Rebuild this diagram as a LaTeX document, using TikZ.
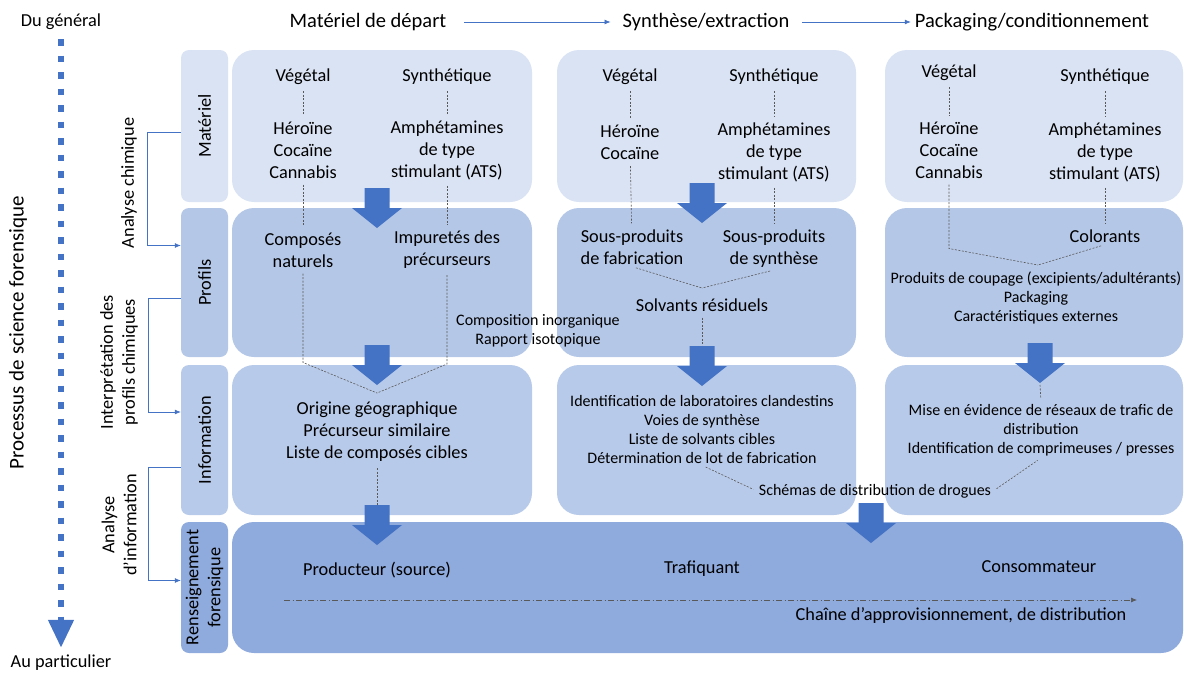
\documentclass[tikz,border=0pt]{standalone}
\usepackage{fontspec}
\setmainfont{Carlito}
\usetikzlibrary{arrows.meta}

\definecolor{cone}{HTML}{DAE3F3}
\definecolor{ctwo}{HTML}{B4C7E7}
\definecolor{cthree}{HTML}{B8CAE9}
\definecolor{cfour}{HTML}{8FAADC}
\definecolor{ablue}{HTML}{4472C4}
\definecolor{dgray}{HTML}{595959}

\tikzset{
  pics/blockarrow/.style={code={
    \fill[ablue] (-12.5,0) -- (12.5,0) -- (12.5,20) -- (25,20) -- (0,40) -- (-25,20) -- (-12.5,20) -- cycle;
  }}
}

\begin{document}
\begin{tikzpicture}[x=1pt,y=-1pt,
  cbox/.style={rectangle, rounded corners=22pt, inner sep=0pt},
  lbox/.style={rectangle, rounded corners=8pt, inner sep=0pt, minimum width=47pt},
  txt/.style={align=center, inner sep=2pt, font=\fontsize{18.3}{22}\selectfont},
  sml/.style={align=center, inner sep=2pt, font=\fontsize{16}{19}\selectfont},
  head/.style={inner sep=2pt, font=\fontsize{20.5}{24}\selectfont},
  vtxt/.style={txt, rotate=90},
  dline/.style={draw=dgray, line width=0.6pt, dash pattern=on 2pt off 1.5pt, shorten <=4pt, shorten >=4pt},
  bline/.style={draw=ablue, line width=0.7pt, -{Latex[length=6pt,width=5pt]}}]
\useasboundingbox (0,0) rectangle (1184,673);

% boxes
\node[lbox, fill=cone, minimum height=152pt] (lm) at (204.5,126) {};
\node[lbox, fill=ctwo, minimum height=149pt] (lp) at (204.5,282.5) {};
\node[lbox, fill=cthree, minimum height=150pt] (li) at (204.5,440) {};
\node[lbox, fill=cfour, minimum height=131pt] (lr) at (204.5,587.5) {};

\node[cbox, fill=cone, minimum width=300pt, minimum height=152pt] (m1) at (382,126) {};
\node[cbox, fill=cone, minimum width=299pt, minimum height=152pt] (m2) at (706.5,126) {};
\node[cbox, fill=cone, minimum width=298pt, minimum height=152pt] (m3) at (1034,126) {};
\node[cbox, fill=ctwo, minimum width=300pt, minimum height=149pt] (q1) at (382,282.5) {};
\node[cbox, fill=ctwo, minimum width=299pt, minimum height=149pt] (q2) at (706.5,282.5) {};
\node[cbox, fill=ctwo, minimum width=298pt, minimum height=149pt] (q3) at (1034,282.5) {};
\node[cbox, fill=cthree, minimum width=300pt, minimum height=150pt] (i1) at (382,440) {};
\node[cbox, fill=cthree, minimum width=299pt, minimum height=150pt] (i2) at (706.5,440) {};
\node[cbox, fill=cthree, minimum width=298pt, minimum height=150pt] (i3) at (1034,440) {};
\node[cbox, fill=cfour, minimum width=951pt, minimum height=131pt] (rf) at (707.5,587.5) {};

% row labels
\node[vtxt] (lmt) at (lm) {Matériel};
\node[vtxt] (lpt) at (lp) {Profils};
\node[vtxt] (lit) at (li) {Information};
\node[vtxt] (lrt) at (lr) {Renseignement\\forensique};

% left side
\node[txt] (dg) at (61,22) {Du général};
\node[txt] (ap) at (61,663) {Au particulier};
\node[vtxt, font=\fontsize{21}{25}\selectfont] (pf) at (18,333) {Processus de science forensique};
\node[vtxt] (ac) at (129,183) {Analyse chimique};
\node[vtxt] (ip) at (119,362) {Interprétation des\\profils chimiques};
\node[vtxt] (ai) at (119,525) {Analyse\\d’information};

\path[draw, ablue, line width=6.7pt, dash pattern=on 6.7pt off 9.8pt, shorten <=7pt, shorten >=5pt,
  -{Triangle[length=28pt,width=24pt]}] (dg.south) -- (ap.north);

\path[draw, bline] ([yshift=-6pt]lm.west) -- ++(-33,0) |- ([yshift=37pt]lp.west);
\path[draw, bline] ([yshift=-16pt]lp.west) -- ++(-32,0) |- ([yshift=28pt]li.west);
\path[draw, bline] ([yshift=-27pt]li.west) -- ++(-32,0) |- ([yshift=7pt]lr.west);

% headers
\node[head] (h1) at (368,22) {Matériel de départ};
\node[head] (h2) at (706,22) {Synthèse/extraction};
\node[head] (h3) at (1032,22) {Packaging/conditionnement};
\path[draw, bline, shorten <=16pt, shorten >=10pt] (h1) -- (h2);
\path[draw, bline, shorten <=11pt, shorten >=2pt] (h2) -- (h3);

% column 1
\node[txt] (v1) at (303,77) {Végétal};
\node[txt] (s1) at (447,77) {Synthétique};
\node[txt] (d1) at (303,150) {Héroïne\\Cocaïne\\Cannabis};
\node[txt] (a1) at (447,150) {Amphétamines\\de type\\stimulant (ATS)};
\node[txt] (n1) at (303,250) {Composés\\naturels};
\node[txt] (p1) at (447,250) {Impuretés des\\précurseurs};
\node[sml] (ci) at (538,331) {Composition inorganique\\Rapport isotopique};
\node[txt] (o1) at (377,432) {Origine géographique\\Précurseur similaire\\Liste de composés cibles};
\coordinate (k1) at (377,393);

\path[draw, dline] (v1) -- (d1);
\path[draw, dline] (s1) -- (a1);
\path[draw, dline] (d1) -- (n1);
\path[draw, dline] (a1) -- (p1);
\path[draw, dline, shorten >=0pt] (n1.south) -- ++(0,93) -- (k1);
\path[draw, dline, shorten >=0pt] (p1.south) -- ++(0,93) -- (k1);

% column 2
\node[txt] (v2) at (630,77) {Végétal};
\node[txt] (s2) at (774,77) {Synthétique};
\node[txt] (d2) at (630,142.5) {Héroïne\\Cocaïne};
\node[txt] (a2) at (774,152) {Amphétamines\\de type\\stimulant (ATS)};
\node[txt] (f2) at (632,247) {Sous-produits\\de fabrication};
\node[txt] (y2) at (774,249) {Sous-produits\\de synthèse};
\node[txt] (sr) at (702,305) {Solvants résiduels};
\node[sml] (l2) at (702,429) {Identification de laboratoires clandestins\\Voies de synthèse\\Liste de solvants cibles\\Détermination de lot de fabrication};
\node[sml] (sd) at (875,491) {Schémas de distribution de drogues};
\coordinate (k2) at (702,288);

\path[draw, dline] (v2) -- (d2);
\path[draw, dline] (s2) -- (a2);
\path[draw, dline] (d2) -- (f2);
\path[draw, dline] (a2) -- (y2);
\path[draw, dline, shorten >=0pt] (f2.south) -- (k2);
\path[draw, dline, shorten >=0pt] (y2.south) -- (k2);

% column 3
\node[txt] (v3) at (949,73) {Végétal};
\node[txt] (s3) at (1105,77) {Synthétique};
\node[txt] (d3) at (949,150) {Héroïne\\Cocaïne\\Cannabis};
\node[txt] (a3) at (1105,152) {Amphétamines\\de type\\stimulant (ATS)};
\node[txt] (co) at (1105,236) {Colorants};
\node[sml] (pc) at (1036,298) {Produits de coupage (excipients/adultérants)\\Packaging\\Caractéristiques externes};
\node[sml] (rt) at (1041,430) {Mise en évidence de réseaux de trafic de\\distribution\\Identification de comprimeuses / presses};
\coordinate (k3) at (1038,265);

\path[draw, dline] (v3) -- (d3);
\path[draw, dline] (s3) -- (a3);
\path[draw, dline] (a3) -- (co);
\path[draw, dline, shorten >=0pt] (d3.south) -- ++(0,68) -- (k3);
\path[draw, dline, shorten >=0pt] (co.south) -- (k3);

\path[draw, dline] (l2.south) -- (sd.west);
\path[draw, dline] (sd.east) -- (rt.south);

% block arrows
\coordinate (b11) at (377,188);
\coordinate (b12) at (377,345);
\coordinate (b13) at (377,505);
\coordinate (b21) at (702,183);
\coordinate (b22) at (702,346);
\coordinate (b23) at (871,503);
\coordinate (b32) at (1040,343);
\coordinate (t32) at (1040,385);

\path[draw, dline, shorten >=0pt] (o1.south) -- (b13);
\path[draw, dline, shorten >=0pt] (sr) -- (b22);
\path[draw, dline, shorten <=0pt] (t32) -- (rt.north);

\foreach \b in {b11,b12,b13,b21,b22,b23,b32}
  \pic at (\b) {blockarrow};

% bottom row
\node[txt] (pr) at (377,570) {Producteur (source)};
\node[txt] (tr) at (702,569) {Trafiquant};
\node[txt] (cs) at (1039,567) {Consommateur};
\node[txt] (ch) at (961,616) {Chaîne d’approvisionnement, de distribution};
\coordinate (c0) at (284,600);
\coordinate (c1) at (1137,600);
\path[draw, dgray, line width=0.7pt, dash pattern=on 6pt off 2.5pt on 1pt off 2.5pt,
  -{Latex[length=6pt,width=5pt]}] (c0) -- (c1);
\end{tikzpicture}
\end{document}
